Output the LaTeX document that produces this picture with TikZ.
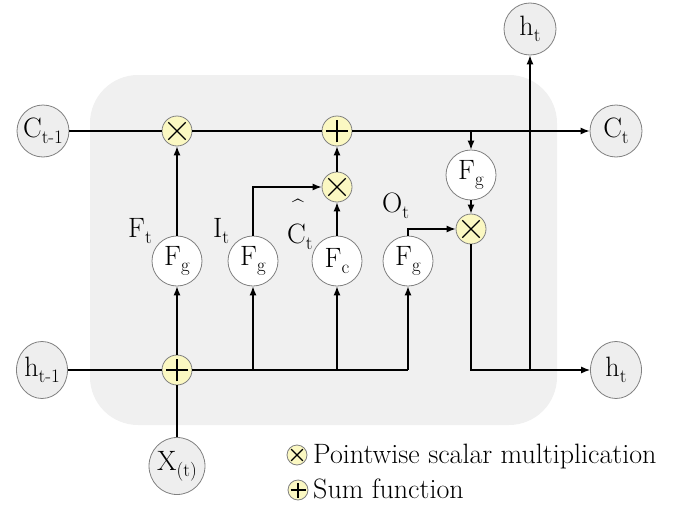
\documentclass[tikz,border=0pt]{standalone}
\usepackage{fontspec}
\usetikzlibrary{arrows.meta,shapes.geometric}
\definecolor{bgcol}{HTML}{F0F0F0}
\definecolor{nodegray}{HTML}{EEEEEE}
\definecolor{opyellow}{HTML}{FBF8C2}
\definecolor{rimgray}{HTML}{808080}
\newcommand\lsub[1]{\raisebox{-6pt}{\fontsize{19}{19}\selectfont #1}}
\newcommand\bigfont{\fontsize{28}{30}\selectfont}
\begin{document}
\begin{tikzpicture}[x=1pt,y=-1pt,
  io/.style={circle,draw=rimgray,fill=nodegray,line width=0.8pt,minimum size=52pt,inner sep=0pt,font=\bigfont},
  ioel/.style={ellipse,draw=rimgray,fill=nodegray,line width=0.8pt,minimum width=51pt,minimum height=57pt,inner sep=0pt,font=\bigfont},
  gate/.style={circle,draw=rimgray,fill=white,line width=0.8pt,minimum size=50pt,inner sep=0pt,font=\bigfont},
  op/.style={circle,draw=rimgray,fill=opyellow,line width=0.8pt,inner sep=0pt},
  mulop/.style={op,minimum size=2*#1 pt,path picture={
      \draw[black,line width=1.4pt] ([shift={(-0.58*#1 pt,-0.58*#1 pt)}]path picture bounding box.center) -- ([shift={(0.58*#1 pt,0.58*#1 pt)}]path picture bounding box.center);
      \draw[black,line width=1.4pt] ([shift={(-0.58*#1 pt,0.58*#1 pt)}]path picture bounding box.center) -- ([shift={(0.58*#1 pt,-0.58*#1 pt)}]path picture bounding box.center);}},
  addop/.style={op,minimum size=2*#1 pt,path picture={
      \draw[black,line width=1.4pt] ([xshift=-0.75*#1 pt]path picture bounding box.center) -- ([xshift=0.75*#1 pt]path picture bounding box.center);
      \draw[black,line width=1.4pt] ([yshift=-0.75*#1 pt]path picture bounding box.center) -- ([yshift=0.75*#1 pt]path picture bounding box.center);}},
  conn/.style={line width=1.2pt},
  arr/.style={conn,-{Latex[length=9pt,width=7pt]}},
  lbl/.style={font=\bigfont,inner sep=0pt,anchor=base west},
  legend/.style={font=\fontsize{28}{30}\selectfont,inner sep=0pt,anchor=base west}
]
\useasboundingbox (0,0) rectangle (688,506);
\fill[bgcol,rounded corners=48pt] (90,75) rectangle (557,425);

% input / output nodes
\node[io] (cprev) at (43,131) {C\lsub{t-1}};
\node[io] (cnext) at (616,131) {C\lsub{t}};
\node[io] (htop) at (530,29) {h\lsub{t}};
\node[ioel] (hprev) at (42,370) {h\lsub{t-1}};
\node[ioel] (hnext) at (616,370) {h\lsub{t}};
\node[ioel] (xin) at (177,466) {X\lsub{(t)}};

% operators
\node[mulop=15] (m1) at (177,131) {};
\node[addop=15] (a1) at (337,131) {};
\node[mulop=15] (m2) at (337,187) {};
\node[mulop=15] (m3) at (471,229) {};
\node[addop=15] (a2) at (177,370) {};

% gates
\node[gate] (gf) at (177,261) {F\lsub{g}};
\node[gate] (gi) at (253,261) {F\lsub{g}};
\node[gate] (gc) at (337,261) {F\lsub{c}};
\node[gate] (go) at (408,261) {F\lsub{g}};
\node[gate] (gr) at (471,175) {F\lsub{g}};

% labels
\node[lbl] (lf) at (128,237) {F\lsub{t}};
\node[lbl] (li) at (213,237) {I\lsub{t}};
\node[lbl] (lc) at (287,243) {C\lsub{t}};
\node[font=\fontsize{21}{21}\selectfont,inner sep=0pt] (lhat) at (298,207) {\textasciicircum};
\node[lbl] (lo) at (382,212) {O\lsub{t}};

% junction coordinates
\coordinate (jr) at (471,131);
\coordinate (jh) at (530,370);
\coordinate (ji) at (253,370);
\coordinate (jc) at (337,370);
\coordinate (jo) at (408,370);

% connectors
\draw[conn] (cprev) -- (m1);
\draw[conn] (m1) -- (a1);
\draw[arr] (a1) -- (cnext);
\draw[arr] (jr) -- (gr);
\draw[arr] (gr) -- (m3);
\draw[arr] (m3) |- (hnext);
\draw[arr] (jh) -- (htop);
\draw[conn] (hprev) -- (a2);
\draw[conn] (a2) -- (jo);
\draw[conn] (xin) -- (a2);
\draw[arr] (a2) -- (gf);
\draw[arr] (gf) -- (m1);
\draw[arr] (ji) -- (gi);
\draw[arr] (jc) -- (gc);
\draw[arr] (jo) -- (go);
\draw[arr] (gi) |- (m2);
\draw[arr] (gc) -- (m2);
\draw[arr] (m2) -- (a1);
\draw[arr] (go) |- (m3);

% legend
\node[mulop=10] (lgm) at (297,455) {};
\node[legend] (lgmt) at (313,463) {Pointwise scalar multiplication};
\node[addop=10] (lga) at (298,490) {};
\node[legend] (lgat) at (313,498) {Sum function};
\end{tikzpicture}
\end{document}
